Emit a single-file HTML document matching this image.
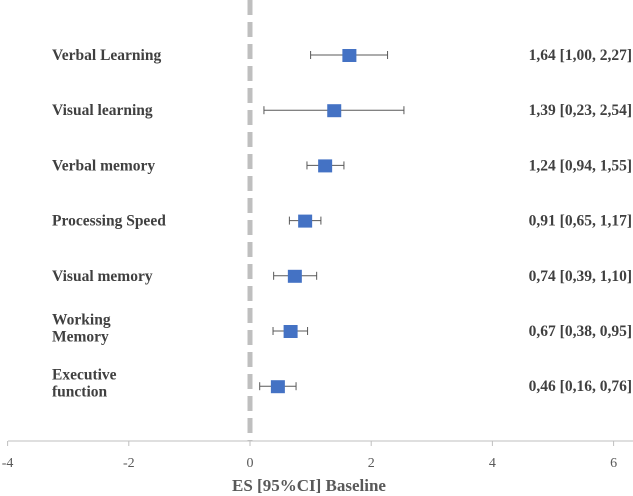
<!DOCTYPE html>
<html><head><meta charset="utf-8"><style>
body{margin:0;background:#fff}
svg{display:block}
text{font-family:"Liberation Serif",serif}
</style></head><body>
<svg id="c" width="633" height="496"></svg>
<script>
const labels=[["Verbal Learning"],["Visual learning"],["Verbal memory"],["Processing Speed"],["Visual memory"],["Working","Memory"],["Executive","function"]];
const es=[1.64,1.39,1.24,0.91,0.74,0.67,0.46];
const lo=[1.00,0.23,0.94,0.65,0.39,0.38,0.16];
const hi=[2.27,2.54,1.55,1.17,1.10,0.95,0.76];
const ciText=["1,64 [1,00, 2,27]","1,39 [0,23, 2,54]","1,24 [0,94, 1,55]","0,91 [0,65, 1,17]","0,74 [0,39, 1,10]","0,67 [0,38, 0,95]","0,46 [0,16, 0,76]"];
const ticks=[-4,-2,0,2,4,6];
const NS="http://www.w3.org/2000/svg";
const svg=document.getElementById('c');
const X=v=>250+v*60.6;
const Y=i=>55+i*55.2;
function el(t,a,txt){const e=document.createElementNS(NS,t);for(const k in a)e.setAttribute(k,a[k]);if(txt!=null)e.textContent=txt;svg.appendChild(e);return e;}
let d=el('line',{x1:X(0),x2:X(0),y1:0,y2:441,stroke:'#bfbfbf','stroke-width':5,'stroke-dasharray':'15 7'});


let ax=el('line',{x1:8,x2:633,y1:441,y2:441,stroke:'#bfbfbf','stroke-width':1});


ticks.forEach(t=>{
 let l=el('line',{x1:X(t),x2:X(t),y1:441,y2:446,stroke:'#bfbfbf'});
 
 
 let tx=el('text',{x:X(t),y:467,'text-anchor':'middle','font-size':14,fill:'#595959'},String(t));
 
 
});
let tt=el('text',{x:X(0)+59,y:491,'text-anchor':'middle','font-size':17,'font-weight':'bold',fill:'#595959'},'ES [95%CI] Baseline');


es.forEach((v,i)=>{
 const y=Y(i);
 const ls=labels[i];
 ls.forEach((s,j)=>{
  let t=el('text',{x:52,y:y+5+(ls.length>1?(j-0.5)*17-3:0),'font-size':15.5,'font-weight':'bold',fill:'#404040'},s);
  
  
 });
 let c=el('line',{x1:X(lo[i]),x2:X(hi[i]),y1:y,y2:y,stroke:'#595959','stroke-width':1});
 
 
 [lo[i],hi[i]].forEach(b=>{
  let cap=el('line',{x1:X(b),x2:X(b),y1:y-4,y2:y+4,stroke:'#595959'});
  
  
 });
 let m=el('rect',{x:X(v)-7,y:y-6,width:14,height:13,fill:'#4472c4'});
 
 
 let r=el('text',{x:632,y:y+5,'text-anchor':'end','font-size':15.5,'font-weight':'bold',fill:'#404040'},ciText[i]);
 
 
});
</script>
</body></html>
